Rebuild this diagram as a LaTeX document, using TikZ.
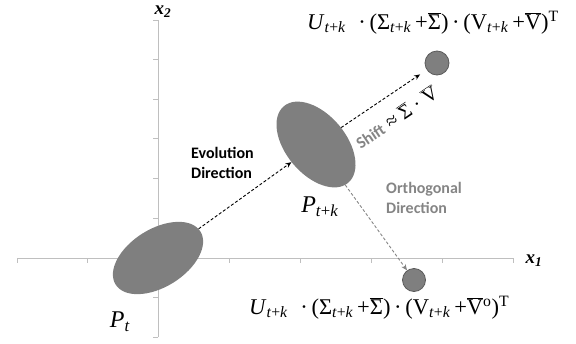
\documentclass[tikz,border=0pt]{standalone}
\usepackage{fontspec}
\usepackage{graphicx}
\setmainfont{Liberation Serif}
\newfontfamily\calfont{Carlito}
\usetikzlibrary{shapes.geometric,arrows.meta,calc}
\definecolor{blobgray}{HTML}{7F7F7F}
\definecolor{dotedge}{HTML}{5A5A5A}
\definecolor{axisgray}{HTML}{BFBFBF}
\definecolor{txtgray}{HTML}{858585}
\newcommand\ovl[1]{\ensuremath{\overline{\hbox{#1}}}}
\tikzset{
  blob/.style={ellipse, fill=blobgray, draw=none, inner sep=0pt},
  dotnode/.style={circle, fill=blobgray, draw=dotedge, line width=0.8pt, inner sep=0pt},
  axisline/.style={draw=axisgray, line width=0.9pt},
  evoarrow/.style={draw=black, line width=0.9pt, dash pattern=on 3pt off 2pt, -{Stealth[length=6pt,width=5pt]}},
  ortharrow/.style={draw=txtgray, line width=0.9pt, dash pattern=on 3pt off 2pt, -{Stealth[length=6pt,width=5pt]}},
  sanslabel/.style={font=\calfont\bfseries\fontsize{16}{20.5}\selectfont, align=left, inner sep=0pt},
  formula/.style={font=\fontsize{22.5}{22.5}\selectfont, inner sep=0pt},
  plabel/.style={font=\fontsize{24}{24}\selectfont, inner sep=0pt},
  axlabel/.style={font=\bfseries\itshape\fontsize{19}{19}\selectfont, inner sep=0pt}
}
\begin{document}
\begin{tikzpicture}[x=1pt,y=-1pt]
\useasboundingbox (0,0) rectangle (576,343);
% axes
\coordinate (hl) at (17,258);
\coordinate (hr) at (513,258);
\coordinate (vt) at (158,20);
\coordinate (vb) at (158,337);
\draw[axisline] (hl) -- (hr);
\draw[axisline] (vt) -- (vb);
\foreach \i in {0,...,7} {
  \draw[axisline] ($(hl)+(\i*70.857,0)$) -- ++(0,4.5);
}
\foreach \i in {0,...,8} {
  \draw[axisline] ($(vt)+(0,\i*39.625)$) -- ++(-5,0);
}
% blobs
\node[blob, minimum width=100pt, minimum height=58pt, rotate=32] (pt) at (158,258) {};
\node[blob, minimum width=100pt, minimum height=60pt, rotate=-50] (ptk) at (316,144.5) {};
\node[dotnode, minimum size=24pt] (ctop) at (437,63) {};
\node[dotnode, minimum size=23pt] (cbot) at (414,280) {};
% connectors
\draw[evoarrow] (pt) -- (ptk);
\draw[evoarrow, shorten >=8pt] (ptk) -- (ctop);
\draw[ortharrow] (ptk) -- (cbot);
% labels
\node[sanslabel, anchor=west] (evo) at (191,163) {Evolution\\Direction};
\node[sanslabel, anchor=west, text=txtgray] (orth) at (386,198) {Orthogonal\\Direction};
\node[inner sep=0pt, rotate=34, font=\fontsize{20}{20}\selectfont] (shift) at (396,117)
  {{\calfont\bfseries\fontsize{16.5}{16.5}\selectfont\color{txtgray}Shift} ≈ \ovl{Σ} · \ovl{V}};
\node[plabel] (lpt) at (120,322) {\textit{P}\textsubscript{\textit{t}}};
\node[plabel] (lptk) at (320,207) {\textit{P}\textsubscript{\textit{t}+\textit{k}}};
\node[formula, anchor=base west] (ftop) at (307,29)
  {\textit{U}\textsubscript{\textit{t}+\textit{k}}\hspace{0.55em}·\,(Σ\textsubscript{\textit{t}+\textit{k}}\,+\ovl{Σ})\,·\,(V\textsubscript{\textit{t}+\textit{k}}\,+\ovl{V})\textsuperscript{T}};
\node[formula, anchor=base west] (fbot) at (249,314)
  {\textit{U}\textsubscript{\textit{t}+\textit{k}}\hspace{0.55em}·\,(Σ\textsubscript{\textit{t}+\textit{k}}\,+\ovl{Σ})\,·\,(V\textsubscript{\textit{t}+\textit{k}}\,+\ovl{V}\textsuperscript{o})\textsuperscript{T}};
\node[axlabel] (x2) at (163,12) {x\textsubscript{2}};
\node[axlabel] (x1) at (534,261) {x\textsubscript{1}};
\end{tikzpicture}
\end{document}
